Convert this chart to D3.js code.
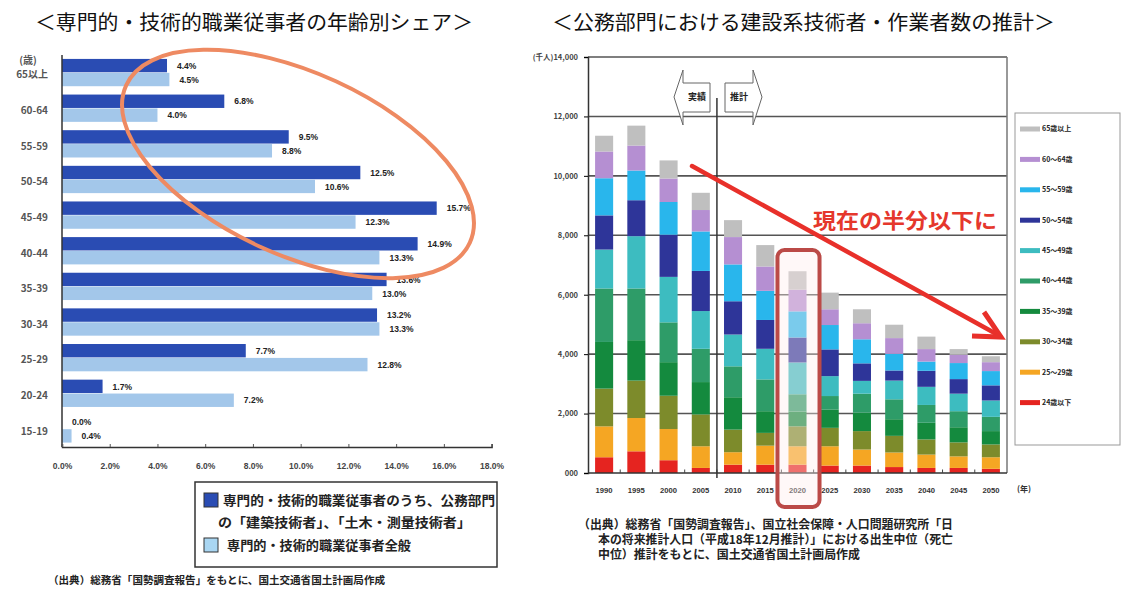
<!DOCTYPE html>
<html><head><meta charset="utf-8">
<script src="https://cdn.jsdelivr.net/npm/d3@7"></script>
<style>body{margin:0;background:#fff}svg{display:block}</style>
</head><body>
<svg id="c" width="1121" height="592"></svg>
<script>
// ---------- Left chart data ----------
const leftCats = ["65以上","60-64","55-59","50-54","45-49","40-44","35-39","30-34","25-29","20-24","15-19"];
const publicShare = [4.4, 6.8, 9.5, 12.5, 15.7, 14.9, 13.6, 13.2, 7.7, 1.7, 0.0];
const allShare    = [4.5, 4.0, 8.8, 10.6, 12.3, 13.3, 13.0, 13.3, 12.8, 7.2, 0.4];
const leftTicks = [0, 2, 4, 6, 8, 10, 12, 14, 16, 18];
const leftLegend = [
  ["専門的・技術的職業従事者のうち、公務部門", "の「建築技術者」、「土木・測量技術者」"],
  ["専門的・技術的職業従事者全般"]
];

// ---------- Right chart data (thousand persons) ----------
const years = [1990,1995,2000,2005,2010,2015,2020,2025,2030,2035,2040,2045,2050];
const ageKeys   = ["u24","a25","a30","a35","a40","a45","a50","a55","a60","o65"];
const ageLabels = ["24歳以下","25～29歳","30～34歳","35～39歳","40～44歳","45～49歳","50～54歳","55～59歳","60～64歳","65歳以上"];
const under24 = [530, 730, 430, 170, 280, 280, 280, 250, 250, 200, 170, 170, 140];
const age25_29 = [1040,1120,1050, 730, 420, 640, 620, 650, 540, 490, 450, 390, 390];
const age30_34 = [1270,1260,1120,1070, 760, 430, 670, 620, 620, 560, 510, 470, 430];
const age35_39 = [1570,1360,1130,1090,1090, 730, 500, 620, 620, 560, 560, 510, 450];
const age40_44 = [1800,1740,1340,1120,1040,1070, 580, 450, 640, 670, 600, 540, 480];
const age45_49 = [1310,1760,1530,1270,1070,1030,1070, 670, 430, 630, 610, 590, 550];
const age50_54 = [1150,1210,1420,1350,1120, 970, 840, 900, 590, 340, 540, 490, 510];
const age55_59 = [1250,1000,1100,1330,1240, 980, 880, 820, 810, 560, 310, 540, 480];
const age60_64 = [ 900, 840, 790, 720, 920, 820, 730, 530, 540, 530, 420, 280, 300];
const over65   = [ 530, 670, 610, 580, 570, 720, 620, 560, 470, 450, 420, 190, 200];
const rightTicks = [0,2000,4000,6000,8000,10000,12000,14000];
const ageColors = ["#e52420","#f5a623","#7d8b2b","#148a3e","#2e9c68","#3dbcc0","#2e3599","#29b6ec","#b58fd2","#bfbfbf"];

const JP = "'Noto Sans CJK JP','Noto Sans',sans-serif";
const NUM = "'Liberation Sans',Arial,sans-serif";
const svg = d3.select("#c");
svg.append("rect").attr("width",1121).attr("height",592).attr("fill","#fff");

// ---------- Titles ----------
svg.append("text").attr("x",35).attr("y",30).attr("font-family",JP).attr("font-size",20)
  .attr("textLength",438).attr("lengthAdjust","spacingAndGlyphs").attr("fill","#111")
  .text("＜専門的・技術的職業従事者の年齢別シェア＞");
svg.append("text").attr("x",552).attr("y",30).attr("font-family",JP).attr("font-size",20)
  .attr("textLength",503).attr("lengthAdjust","spacingAndGlyphs").attr("fill","#111")
  .text("＜公務部門における建設系技術者・作業者数の推計＞");

// ---------- Left chart ----------
const xL = d3.scaleLinear().domain([0,18]).range([62,491.6]);
const yL = d3.scaleBand().domain(leftCats).range([55,447]).paddingInner(0.22).paddingOuter(0.11);
const sub = d3.scaleBand().domain(["pub","all"]).range([0,yL.bandwidth()]);
const L = svg.append("g");
const rows = leftCats.map((c,i)=>({c, pub:publicShare[i], all:allShare[i]}));
const series = [["pub","#2a4cb3"],["all","#a3c7ea"]];
series.forEach(([k,col])=>{
  L.selectAll(null).data(rows).join("rect")
    .attr("x",xL(0)).attr("y",d=>yL(d.c)+sub(k))
    .attr("width",d=>xL(d[k])-xL(0)).attr("height",sub.bandwidth()-0.5)
    .attr("fill",col);
  L.selectAll(null).data(rows).join("text")
    .attr("x",d=>xL(d[k])+10).attr("y",d=>yL(d.c)+sub(k)+sub.bandwidth()/2)
    .attr("dy","0.35em").attr("font-family",NUM).attr("font-size",8.5).attr("font-weight","bold")
    .attr("fill","#222").text(d=>d[k].toFixed(1)+"%");
});
// axes
L.append("line").attr("x1",62).attr("x2",62).attr("y1",55).attr("y2",447).attr("stroke","#333").attr("stroke-width",1.5);
const axL = L.append("g").attr("transform","translate(0,447)")
  .call(d3.axisBottom(xL).tickValues(leftTicks).tickSize(-3).tickPadding(16).tickFormat(d=>d.toFixed(1)+"%"));
axL.select(".domain").attr("stroke","#333").attr("stroke-width",1.5);
axL.selectAll(".tick line").attr("stroke","#555");
axL.selectAll("text").attr("font-family",NUM).attr("font-size",8.5).attr("font-weight","bold").attr("fill","#444");
// category labels
L.selectAll(null).data(leftCats).join("text")
  .attr("x",48).attr("y",d=>yL(d)+yL.bandwidth()/2+2).attr("dy","0.35em").attr("text-anchor","end")
  .attr("font-family",JP).attr("font-size",10).attr("font-weight","bold").attr("fill","#555").text(d=>d);
L.append("text").attr("x",28).attr("y",60).attr("dy","0.35em").attr("text-anchor","middle")
  .attr("font-family",JP).attr("font-size",10).attr("font-weight","bold").attr("fill","#555").text("(歳)");
// ellipse highlight
L.append("ellipse").attr("cx",298).attr("cy",164).attr("rx",189).attr("ry",91)
  .attr("transform","rotate(24.6 298 164)").attr("fill","none").attr("stroke","#ee8a62").attr("stroke-width",4);
// legend
L.append("rect").attr("x",195).attr("y",482).attr("width",302).attr("height",85)
  .attr("fill","#fff").attr("stroke","#333").attr("stroke-width",1.5);
L.append("rect").attr("x",204).attr("y",493).attr("width",14).attr("height",14).attr("fill","#2a4cb3").attr("stroke","#333");
L.append("rect").attr("x",204).attr("y",538).attr("width",14).attr("height",14).attr("fill","#a9d6f2").attr("stroke","#333");
L.append("text").attr("x",223).attr("y",505).attr("font-family",JP).attr("font-size",13).attr("font-weight","bold")
  .attr("textLength",272).attr("lengthAdjust","spacingAndGlyphs").attr("fill","#222").text(leftLegend[0][0]);
L.append("text").attr("x",218).attr("y",527).attr("font-family",JP).attr("font-size",13).attr("font-weight","bold")
  .attr("textLength",253).attr("lengthAdjust","spacingAndGlyphs").attr("fill","#222").text(leftLegend[0][1]);
L.append("text").attr("x",227).attr("y",550).attr("font-family",JP).attr("font-size",13).attr("font-weight","bold")
  .attr("textLength",184).attr("lengthAdjust","spacingAndGlyphs").attr("fill","#222").text(leftLegend[1][0]);
// source
L.append("text").attr("x",48).attr("y",584).attr("font-family",JP).attr("font-size",10.5).attr("font-weight","bold")
  .attr("textLength",337).attr("lengthAdjust","spacingAndGlyphs").attr("fill","#222")
  .text("（出典）総務省「国勢調査報告」をもとに、国土交通省国土計画局作成");

// ---------- Right chart ----------
const R = svg.append("g");
const xR = d3.scaleBand().domain(years).range([588,1007]).paddingInner(0.44).paddingOuter(0.22);
const yR = d3.scaleLinear().domain([0,14000]).range([473,57]);
const cols = [under24,age25_29,age30_34,age35_39,age40_44,age45_49,age50_54,age55_59,age60_64,over65];
const table = years.map((y,i)=>{const o={year:y}; ageKeys.forEach((k,j)=>o[k]=cols[j][i]); return o;});
const stacked = d3.stack().keys(ageKeys)(table);
// gridlines
R.selectAll(null).data(rightTicks.filter(d=>d>0)).join("line")
  .attr("x1",588).attr("x2",1007).attr("y1",d=>yR(d)).attr("y2",d=>yR(d))
  .attr("stroke","#555").attr("stroke-width",1.6);
R.append("line").attr("x1",1007).attr("x2",1007).attr("y1",yR(14000)).attr("y2",yR(0)).attr("stroke","#777").attr("stroke-width",1.5);
// bars
stacked.forEach((s,j)=>{
  R.selectAll(null).data(s).join("rect")
    .attr("x",d=>xR(d.data.year)).attr("width",xR.bandwidth())
    .attr("y",d=>yR(d[1])).attr("height",d=>yR(d[0])-yR(d[1]))
    .attr("fill",ageColors[j]);
});
// axes
const ayR = R.append("g").attr("transform","translate(588,0)")
  .call(d3.axisLeft(yR).tickValues(rightTicks).tickSize(4).tickPadding(6)
    .tickFormat(d=>d===0?"000":(d===14000?"(千人)":"")+d3.format(",")(d)));
ayR.select(".domain").attr("stroke","#333").attr("stroke-width",1.5);
ayR.selectAll("text").attr("font-family",JP).attr("font-size",7.5).attr("font-weight","bold").attr("fill","#444");
R.append("line").attr("x1",588).attr("x2",1007).attr("y1",473).attr("y2",473).attr("stroke","#333").attr("stroke-width",1.5);
R.selectAll(null).data(d3.range(1,13)).join("line")
  .attr("x1",d=>588+d*xR.step()).attr("x2",d=>588+d*xR.step()).attr("y1",473).attr("y2",469.5)
  .attr("stroke","#444");
R.selectAll(null).data(years).join("text")
  .attr("x",d=>xR(d)+xR.bandwidth()/2).attr("y",493).attr("text-anchor","middle")
  .attr("font-family",NUM).attr("font-size",8).attr("font-weight","bold").attr("fill","#333")
  .attr("textLength",17).attr("lengthAdjust","spacingAndGlyphs").text(d=>d);
R.append("text").attr("x",1017).attr("y",492).attr("font-family",JP).attr("font-size",8).attr("font-weight","bold").attr("fill","#333").text("(年)");
// divider between actual and projection
const divX = (xR(2005)+xR.bandwidth()+xR(2010))/2;
R.append("line").attr("x1",divX).attr("x2",divX).attr("y1",98).attr("y2",478).attr("stroke","#333").attr("stroke-width",1.5);
// 実績 / 推計 arrows
R.append("path").attr("d","M683,70 L674,97 L683,125 L683,112 L710,112 L710,83 L683,83 Z")
  .attr("fill","#fff").attr("stroke","#666").attr("stroke-width",1);
R.append("path").attr("d","M725,83 L753,83 L753,70 L762,97 L753,125 L753,112 L725,112 Z")
  .attr("fill","#fff").attr("stroke","#666").attr("stroke-width",1);
R.append("text").attr("x",697).attr("y",97).attr("dy","0.35em").attr("text-anchor","middle")
  .attr("font-family",JP).attr("font-size",9).attr("font-weight","bold").attr("fill","#222").text("実績");
R.append("text").attr("x",739).attr("y",97).attr("dy","0.35em").attr("text-anchor","middle")
  .attr("font-family",JP).attr("font-size",9).attr("font-weight","bold").attr("fill","#222").text("推計");
// 2020 highlight box
R.append("rect").attr("x",xR(2020)-11).attr("y",250).attr("width",xR.bandwidth()+24).attr("height",257)
  .attr("rx",7).attr("fill","rgba(255,236,236,0.38)").attr("stroke","#bb4a47").attr("stroke-width",4);
// red trend arrow
R.append("line").attr("x1",692).attr("y1",166).attr("x2",1000).attr("y2",336)
  .attr("stroke","#e8302a").attr("stroke-width",4.5).attr("stroke-linecap","round");
R.append("polyline").attr("points","972,336 1001,337 984,312")
  .attr("fill","none").attr("stroke","#e8302a").attr("stroke-width",5).attr("stroke-linejoin","miter");
R.append("text").attr("x",813).attr("y",228).attr("font-family",JP).attr("font-size",21).attr("font-weight","bold")
  .attr("textLength",184).attr("lengthAdjust","spacingAndGlyphs").attr("fill","#e5372c").text("現在の半分以下に");
// legend
R.append("rect").attr("x",1015).attr("y",113).attr("width",105).attr("height",332)
  .attr("fill","#fff").attr("stroke","#999").attr("stroke-width",1);
const legOrder = d3.range(ageKeys.length).reverse();
R.selectAll(null).data(legOrder).join("rect")
  .attr("x",1020).attr("y",(d,i)=>129+i*30.4-2.5).attr("width",20).attr("height",5).attr("fill",d=>ageColors[d]);
R.selectAll(null).data(legOrder).join("text")
  .attr("x",1042).attr("y",(d,i)=>129+i*30.4).attr("dy","0.35em")
  .attr("font-family",JP).attr("font-size",7).attr("font-weight","bold").attr("fill","#222").text(d=>ageLabels[d]);
// source
const src = ["（出典）総務省「国勢調査報告」、国立社会保障・人口問題研究所「日",
             "本の将来推計人口（平成18年12月推計）」における出生中位（死亡",
             "中位）推計をもとに、国土交通省国土計画局作成"];
const srcX = [578,598,598], srcW = [375,355,262];
src.forEach((t,i)=>{
  R.append("text").attr("x",srcX[i]).attr("y",529+i*15).attr("font-family",JP).attr("font-size",12)
    .attr("font-weight","bold").attr("textLength",srcW[i]).attr("lengthAdjust","spacingAndGlyphs")
    .attr("fill","#222").text(t);
});
</script>
</body></html>
